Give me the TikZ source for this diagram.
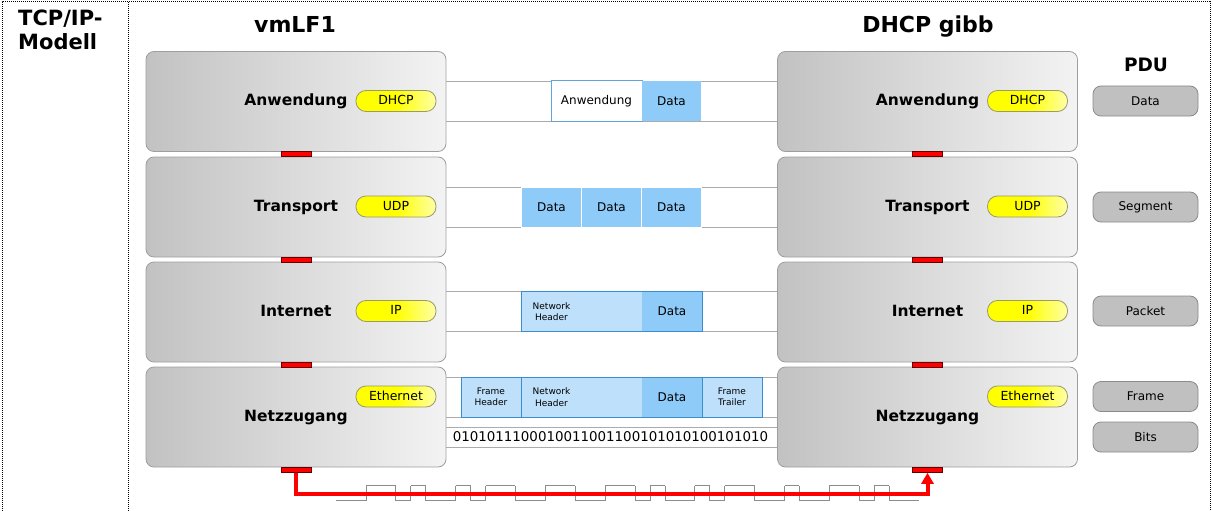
\documentclass[tikz,border=0pt]{standalone}
\usepackage{fontspec}
\setmainfont{DejaVu Sans}
\usetikzlibrary{calc,positioning,arrows.meta,backgrounds}

\definecolor{boxdark}{HTML}{C2C2C2}
\definecolor{boxlight}{HTML}{F3F3F3}
\definecolor{boxline}{HTML}{9E9E9E}
\definecolor{pdufill}{HTML}{C0C0C0}
\definecolor{pduline}{HTML}{8A8A8A}
\definecolor{pktdark}{HTML}{8FCBF8}
\definecolor{pktlight}{HTML}{BEE0FB}
\definecolor{pktline}{HTML}{3A8ED0}
\definecolor{chanline}{HTML}{ABABAB}
\definecolor{wavegray}{HTML}{8C8C8C}
\definecolor{pillline}{HTML}{9A9A6A}

\newcommand{\fsz}[2]{\fontsize{#1}{#2}\selectfont}

\tikzset{
  layerbox/.style={draw=boxline, line width=0.8pt, rounded corners=8pt,
    left color=boxdark, right color=boxlight,
    minimum width=300pt, minimum height=100pt, inner sep=0pt,
    font=\bfseries\fsz{15.5}{18}, text height=12pt, text depth=3.5pt},
  pill/.style={draw=pillline, line width=0.8pt, rounded corners=10pt,
    left color=yellow, right color=yellow!35, middle color=yellow,
    minimum width=80pt, minimum height=21pt, inner sep=0pt,
    font=\fsz{12.5}{14}, text height=9pt, text depth=2pt},
  port/.style={draw=black!60!red, fill=red, line width=0.6pt,
    minimum width=30pt, minimum height=5pt, inner sep=0pt},
  pdu/.style={draw=pduline, fill=pdufill, line width=0.8pt, rounded corners=8pt,
    minimum width=105pt, minimum height=30pt, inner sep=0pt, font=\fsz{12}{14}},
  pkt/.style={minimum height=40pt, inner sep=0pt, outer sep=0pt, font=\fsz{12}{14}},
  pktd/.style={pkt, fill=pktdark},
  pktl/.style={pkt, fill=pktlight},
  hdr/.style={pkt, fill=pktlight, draw=pktline, line width=1pt,
    font=\fsz{9}{11.5}, align=center},
  chan/.style={draw=chanline, line width=0.8pt},
  hostname/.style={font=\bfseries\fsz{22}{26}, inner sep=0pt},
  sigline/.style={red, line width=4pt, -{Triangle[length=11pt,width=12pt]}},
  wave/.style={wavegray, line width=0.7pt},
  dotframe/.style={line width=1pt, dash pattern=on 1pt off 1pt}
}

\begin{document}
\begin{tikzpicture}[x=1pt, y=-1pt]
\useasboundingbox (0,0) rectangle (1213,511);

% frame
\draw[dotframe] (2,511) -- (2,2) -- (1210,2) -- (1210,511);
\draw[dotframe] (128,2) -- (128,511);

\node[anchor=north west, align=left, inner sep=0pt,
      font=\bfseries\fsz{21}{23.5}] (model) at (18,10) {TCP/IP-\\Modell};
\node[hostname, anchor=base] (hostL) at (295,33) {vmLF1};
\node[hostname, anchor=base] (hostR) at (928,33) {DHCP gibb};
\node[font=\bfseries\fsz{18.5}{22}, anchor=base, inner sep=0pt] (pduhead) at (1146,72) {PDU};

% layers, both hosts
\foreach \n/\y/\t/\p/\q in {A/101.5/Anwendung/DHCP/101,
                            T/207/Transport/UDP/206.5,
                            I/312/Internet/IP/311,
                            N/417/Netzzugang/Ethernet/396.5}
{
  \node[layerbox] (l\n) at (296,\y) {\t};
  \node[layerbox] (r\n) at (927.5,\y) {\t};
  \node[pill] (pl\n) at (396,\q) {\p};
  \node[pill] (pr\n) at (1027.5,\q) {\p};
};

\foreach \y/\m in {154/1, 259.5/2, 364.5/3, 470/4}
{
  \node[port] (ptl\m) at (296,\y) {};
  \node[port] (ptr\m) at (927.5,\y) {};
};

% Anwendung
\node[pkt, fill=white, draw=pktline!80, line width=1pt, minimum width=91pt] (anwH) at (596.5,101) {Anwendung};
\node[pktd, minimum width=59pt, right=0pt of anwH] (anwD) {Data};

% Transport
\node[pktd, draw=white, line width=1pt, minimum width=60pt] (segA) at (551.5,207) {Data};
\node[pktd, draw=white, line width=1pt, minimum width=60pt, right=0pt of segA] (segB) {Data};
\node[pktd, draw=white, line width=1pt, minimum width=60pt, right=0pt of segB] (segC) {Data};

% Internet
\node[hdr, minimum width=61pt] (ipH) at (551.5,311.5) {Network\\Header};
\node[pktl, minimum width=60pt, right=0pt of ipH] (ipM) {};
\node[pktd, minimum width=60pt, right=0pt of ipM] (ipD) {Data};
\draw[pktline, line width=1pt] (ipH.north west) rectangle (ipD.south east);

% Netzzugang
\node[hdr, minimum width=60pt] (frH) at (491,397) {Frame\\Header};
\node[hdr, minimum width=61pt, right=0pt of frH] (frN) {Network\\Header};
\node[pktl, minimum width=60pt, right=0pt of frN] (frM) {};
\node[pktd, minimum width=60pt, right=0pt of frM] (frD) {Data};
\node[hdr, minimum width=60pt, right=0pt of frD] (frT) {Frame\\Trailer};
\draw[pktline, line width=1pt] (frH.north west) rectangle (frT.south east);

\node[minimum height=20pt, inner sep=0pt, outer sep=0pt, font=\fsz{13.4}{15}] (bits) at (610.5,437) {0101011100010011001100101010100101010};

\begin{scope}[on background layer]
\foreach \n/\a in {A/anwH, T/segA, I/ipH, N/frH, N/bits}
{
  \draw[chan] (l\n.east |- \a.north) -- (r\n.west |- \a.north);
  \draw[chan] (l\n.east |- \a.south) -- (r\n.west |- \a.south);
};
\end{scope}

% PDU
\foreach \y/\t [count=\k] in {101/Data, 207/Segment, 311/Packet, 396.5/Frame, 437/Bits}
  \node[pdu] (pdu\k) at (1145.5,\y) {\t};

% signal
\foreach \b [count=\i from 0, remember=\b as \p (initially 0)] in
  {0,0,1,1,0,1,0,0,1,0,1,1,0,0,1,1,0,0,1,1,0,1,0,0,1,0,1,1,0,0,1,0,0,1,1,0,1,0,0}
{
  \pgfmathsetmacro\xa{336+14.95*\i}
  \pgfmathsetmacro\xb{\xa+14.95}
  \pgfmathsetmacro\ya{500.5-15*\b}
  \draw[wave] (\xa,\ya) -- (\xb,\ya);
  \ifnum\b=\p\else \draw[wave] (\xa,485.5) -- (\xa,500.5); \fi
};

\coordinate (sigturn) at (927.5,494);
\draw[sigline] (ptl4.south) |- (sigturn) -- (ptr4.south);
\end{tikzpicture}
\end{document}
